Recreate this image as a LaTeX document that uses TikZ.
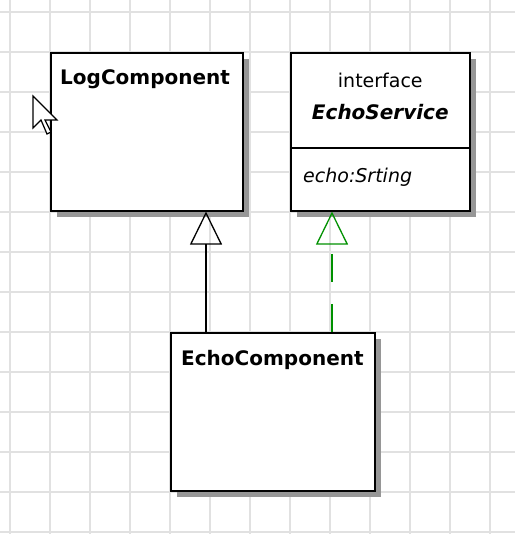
\documentclass[tikz,border=0pt]{standalone}
\usepackage{fontspec}
\setmainfont{DejaVu Sans}
\usetikzlibrary{arrows.meta,shadows,calc,positioning}
\definecolor{gridgray}{RGB}{225,225,225}
\definecolor{realgreen}{RGB}{0,145,0}
\definecolor{shadowgray}{RGB}{150,150,150}

\begin{document}
\begin{tikzpicture}[x=1pt,y=-1pt,
	umlbox/.style={draw,fill=white,line width=1.6pt,anchor=north west,inner sep=0pt,
		drop shadow={shadow xshift=6pt,shadow yshift=-6pt,fill=shadowgray,opacity=1}},
	boxtitle/.style={inner sep=0pt,font=\fontsize{20}{24}\selectfont\bfseries},
	boxtext/.style={inner sep=0pt,font=\fontsize{19}{23}\selectfont},
	gridline/.style={gridgray,line width=1.5pt},
	general/.style={-{Triangle[open,length=33pt,width=32pt]},line width=1.3pt},
	realize/.style={-{Triangle[open,length=33pt,width=32pt]},line width=1.3pt,color=realgreen,dash pattern=on 28pt off 22pt}]
	\useasboundingbox[fill=white] (0,0) rectangle (515,534);
	% background grid
	\foreach \x in {10,50,...,490}
		\draw[gridline] (\x,0) -- (\x,534);
	\foreach \y in {12,52,...,532}
		\draw[gridline] (0,\y) -- (515,\y);
	% classes
	\node[umlbox,minimum width=192pt,minimum height=158pt] (log) at (50,52) {};
	\node[umlbox,minimum width=179pt,minimum height=158pt] (echo) at (290,52) {};
	\node[umlbox,minimum width=204pt,minimum height=158pt] (ecomp) at (170,332) {};
	\node[boxtitle,anchor=west] (logname) at ($(log.north west)+(10,27)$) {LogComponent};
	\node[boxtext] (stereo) at ($(echo.north)+(0,28)$) {interface};
	\node[boxtitle,font=\fontsize{20}{24}\selectfont\bfseries\itshape] (echoname) at ($(echo.north)+(0,60)$) {EchoService};
	\draw[line width=1.3pt] ($(echo.north west)+(0,96)$) coordinate (sep) -- (sep -| echo.east);
	\node[boxtext,font=\fontsize{19}{23}\selectfont\itshape,anchor=west] (op) at ($(echo.north west)+(13,125)$) {echo:Srting};
	\node[boxtitle,anchor=west] (ecompname) at ($(ecomp.north west)+(11,28)$) {EchoComponent};
	% relations
	\draw[general] ($(ecomp.north west)+(36,0)$) coordinate (g1) -- (g1 |- log.south);
	\draw[realize] ($(ecomp.north west)+(162,0)$) coordinate (r1) -- (r1 |- echo.south);
	% mouse pointer
	\draw[fill=white,line width=1.2pt,line join=miter]
		(33,96) -- ++(0,32) -- ++(8,-8) -- ++(6,14) -- ++(4,-2) -- ++(-6,-12) -- ++(12,0) -- cycle;
\end{tikzpicture}
\end{document}
